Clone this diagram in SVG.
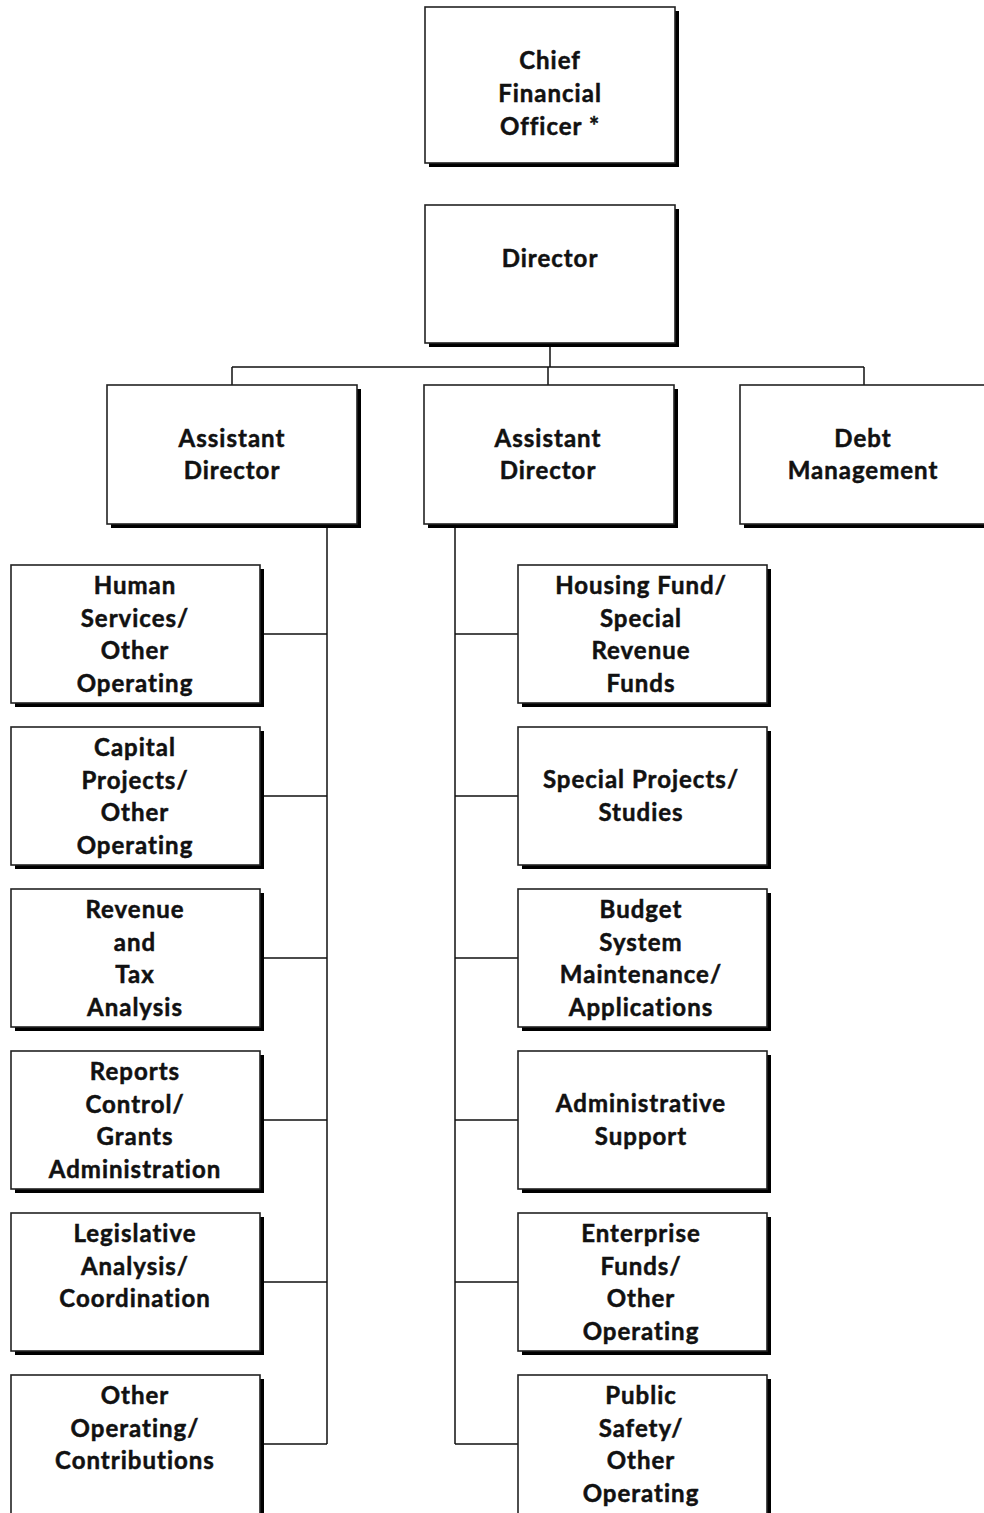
<svg xmlns="http://www.w3.org/2000/svg" width="984" height="1513" viewBox="0 0 984 1513">
<style>
.box{fill:#fff;stroke:#222;stroke-width:1.6}
.sh{fill:#000}
.c{fill:none;stroke:#111;stroke-width:1.5}
text{font-family:Lato,"Open Sans","Liberation Sans",sans-serif;font-weight:700;font-size:24px;letter-spacing:1px;fill:#111;stroke:#111;stroke-width:0.5;text-anchor:middle}
</style>
<rect width="984" height="1513" fill="#fff"/>
<g id="connectors">
<path class="c" d="M550,343V367M232,367H864M232,367V385M548,367V385M864,367V385"/>
<path class="c" d="M327,524V1444M264,634H327M264,796H327M264,958H327M264,1120H327M264,1282H327M264,1444H327"/>
<path class="c" d="M455,524V1444M455,634H518M455,796H518M455,958H518M455,1120H518M455,1282H518M455,1444H518"/>
</g>
<g id="cfo"><rect class="sh" x="429" y="11" width="250" height="156"/><rect class="box" x="425" y="7" width="250" height="156"/>
<text x="550" y="69">Chief</text><text x="550" y="102">Financial</text><text x="550" y="135">Officer *</text></g>
<g id="director"><rect class="sh" x="429" y="209" width="250" height="138"/><rect class="box" x="425" y="205" width="250" height="138"/>
<text x="550" y="267">Director</text></g>
<g id="asst1"><rect class="sh" x="111" y="389" width="250" height="139"/><rect class="box" x="107" y="385" width="250" height="139"/>
<text x="232" y="447">Assistant</text><text x="232" y="479">Director</text></g>
<g id="asst2"><rect class="sh" x="428" y="389" width="250" height="139"/><rect class="box" x="424" y="385" width="250" height="139"/>
<text x="548" y="447">Assistant</text><text x="548" y="479">Director</text></g>
<g id="debt"><rect class="sh" x="744" y="389" width="250" height="139"/><rect class="box" x="740" y="385" width="250" height="139"/>
<text x="863" y="447">Debt</text><text x="863" y="479">Management</text></g>
<g id="l1"><rect class="sh" x="15" y="569" width="249" height="138"/><rect class="box" x="11" y="565" width="249" height="138"/>
<text x="135" y="594">Human</text><text x="135" y="627">Services/</text><text x="135" y="659">Other</text><text x="135" y="692">Operating</text></g>
<g id="l2"><rect class="sh" x="15" y="731" width="249" height="138"/><rect class="box" x="11" y="727" width="249" height="138"/>
<text x="135" y="756">Capital</text><text x="135" y="789">Projects/</text><text x="135" y="821">Other</text><text x="135" y="854">Operating</text></g>
<g id="l3"><rect class="sh" x="15" y="893" width="249" height="138"/><rect class="box" x="11" y="889" width="249" height="138"/>
<text x="135" y="918">Revenue</text><text x="135" y="951">and</text><text x="135" y="983">Tax</text><text x="135" y="1016">Analysis</text></g>
<g id="l4"><rect class="sh" x="15" y="1055" width="249" height="138"/><rect class="box" x="11" y="1051" width="249" height="138"/>
<text x="135" y="1080">Reports</text><text x="135" y="1113">Control/</text><text x="135" y="1145">Grants</text><text x="135" y="1178">Administration</text></g>
<g id="l5"><rect class="sh" x="15" y="1217" width="249" height="138"/><rect class="box" x="11" y="1213" width="249" height="138"/>
<text x="135" y="1242">Legislative</text><text x="135" y="1275">Analysis/</text><text x="135" y="1307">Coordination</text></g>
<g id="l6"><rect class="sh" x="15" y="1379" width="249" height="160"/><rect class="box" x="11" y="1375" width="249" height="160"/>
<text x="135" y="1404">Other</text><text x="135" y="1437">Operating/</text><text x="135" y="1469">Contributions</text></g>
<g id="r1"><rect class="sh" x="522" y="569" width="249" height="138"/><rect class="box" x="518" y="565" width="249" height="138"/>
<text x="641" y="594">Housing Fund/</text><text x="641" y="627">Special</text><text x="641" y="659">Revenue</text><text x="641" y="692">Funds</text></g>
<g id="r2"><rect class="sh" x="522" y="731" width="249" height="138"/><rect class="box" x="518" y="727" width="249" height="138"/>
<text x="641" y="788">Special Projects/</text><text x="641" y="821">Studies</text></g>
<g id="r3"><rect class="sh" x="522" y="893" width="249" height="138"/><rect class="box" x="518" y="889" width="249" height="138"/>
<text x="641" y="918">Budget</text><text x="641" y="951">System</text><text x="641" y="983">Maintenance/</text><text x="641" y="1016">Applications</text></g>
<g id="r4"><rect class="sh" x="522" y="1055" width="249" height="138"/><rect class="box" x="518" y="1051" width="249" height="138"/>
<text x="641" y="1112">Administrative</text><text x="641" y="1145">Support</text></g>
<g id="r5"><rect class="sh" x="522" y="1217" width="249" height="138"/><rect class="box" x="518" y="1213" width="249" height="138"/>
<text x="641" y="1242">Enterprise</text><text x="641" y="1275">Funds/</text><text x="641" y="1307">Other</text><text x="641" y="1340">Operating</text></g>
<g id="r6"><rect class="sh" x="522" y="1379" width="249" height="160"/><rect class="box" x="518" y="1375" width="249" height="160"/>
<text x="641" y="1404">Public</text><text x="641" y="1437">Safety/</text><text x="641" y="1469">Other</text><text x="641" y="1502">Operating</text></g>
</svg>
